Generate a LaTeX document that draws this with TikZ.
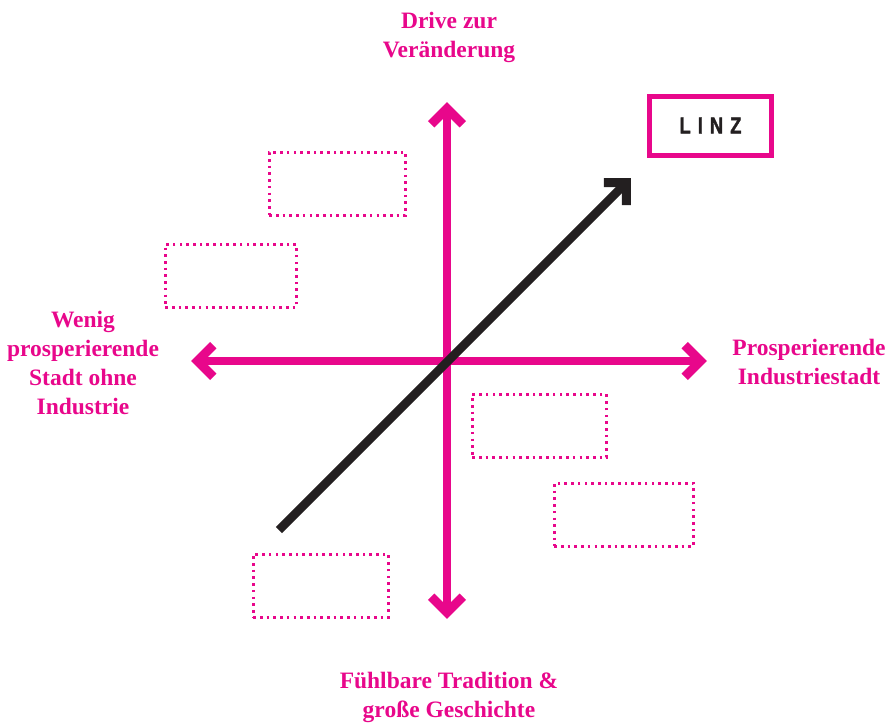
\documentclass[tikz,border=0pt]{standalone}
\usepackage{fontspec}
\setmainfont{Liberation Serif}
\newfontfamily\linzfont[FakeStretch=0.8,FakeBold=1.6]{Liberation Sans Bold}
\usetikzlibrary{calc}
\definecolor{pink}{HTML}{E8078B}
\definecolor{ink}{HTML}{231F20}
\tikzset{
  axis/.style={draw=pink, line width=8.5pt, shorten <=6pt, shorten >=6pt},
  trend/.style={draw=ink, line width=8.5pt, shorten >=6pt},
  chev/.pic={\draw[line width=9pt, line join=miter, miter limit=4] (-15.9,22.3) -- (0,6.4) -- (15.9,22.3);},
  slot/.style={draw=pink, line width=2.6pt, dash pattern=on 2.6pt off 4.1pt, minimum width=#1, minimum height=63pt, inner sep=0pt, anchor=north west},
  slot/.default=135pt,
  lbl/.style={text=pink, font=\bfseries\fontsize{23.5}{29}\selectfont, align=center, inner sep=0pt},
  linzbox/.style={draw=pink, line width=5pt, minimum width=122pt, minimum height=59pt, inner sep=0pt, text=ink, font=\linzfont\fontsize{23}{24}\selectfont}
}
\begin{document}
\begin{tikzpicture}[x=1pt,y=-1pt]
\useasboundingbox (0,0) rectangle (892,723);
\coordinate (top) at (447,102);
\coordinate (bot) at (447,619);
\coordinate (lft) at (191,361);
\coordinate (rgt) at (707,361);
\coordinate (tstart) at (279,530);
\coordinate (tend) at (631,178);
\draw[axis] (bot) -- (top);
\draw[axis] (lft) -- (rgt);
\pic[color=pink] at (top) {chev};
\pic[color=pink, rotate=180] at (bot) {chev};
\pic[color=pink, rotate=90] at (lft) {chev};
\pic[color=pink, rotate=-90] at (rgt) {chev};
\draw[trend] (tstart) -- (tend);
\pic[color=ink, rotate=-45] at (tend) {chev};
\node[linzbox] (linz) at (710.5,125.5) {L\hspace{7pt}I\hspace{7pt}N\hspace{7pt}Z};
\node[slot=136pt] (s1) at (268,151) {};
\node[slot=131pt] (s2) at (164,243) {};
\node[slot=134pt] (s3) at (471,393) {};
\node[slot=139pt] (s4) at (553,482) {};
\node[slot=135pt] (s5) at (252,553) {};
\node[lbl] (ltop) at (449,37) {Drive zur\\Veränderung};
\node[lbl] (llft) at (83,363) {Wenig\\prosperierende\\Stadt ohne\\Industrie};
\node[lbl] (lrgt) at (809,362) {Prosperierende\\Industriestadt};
\node[lbl] (lbot) at (449,697) {Fühlbare Tradition \&\\große Geschichte};
\end{tikzpicture}
\end{document}
